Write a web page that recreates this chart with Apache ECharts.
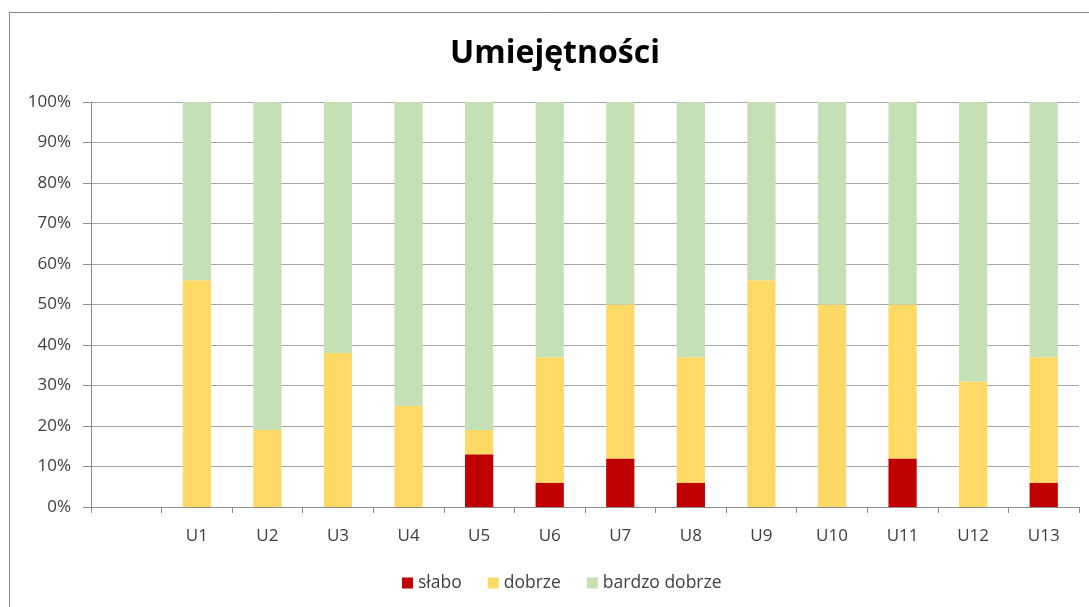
<!DOCTYPE html>
<html>
<head>
<meta charset="utf-8">
<script src="https://cdn.jsdelivr.net/npm/echarts@6/dist/echarts.min.js"></script>
<style>html,body{margin:0;padding:0;background:#fff;}#c{width:1089px;height:607px;}</style>
</head>
<body>
<div id="c"></div>
<script>
var categories = ['', 'U1', 'U2', 'U3', 'U4', 'U5', 'U6', 'U7', 'U8', 'U9', 'U10', 'U11', 'U12', 'U13'];
var slabo =        [null, 0, 0, 0, 0, 13, 6, 12, 6, 0, 0, 12, 0, 6];
var dobrze =       [null, 56, 19, 38, 25, 6, 31, 38, 31, 56, 50, 38, 31, 31];
var bardzoDobrze = [null, 44, 81, 62, 75, 81, 63, 50, 63, 44, 50, 50, 69, 63];
var yTicks = ['0%', '10%', '20%', '30%', '40%', '50%', '60%', '70%', '80%', '90%', '100%'];

var chart = echarts.init(document.getElementById('c'), null, {renderer: 'canvas'});
var font = 'Open Sans';
var txt = '#404040';
function bar(name, data, color) {
  return {
    name: name, type: 'bar', stack: 'all', data: data, barWidth: '40%',
    itemStyle: {color: color}, emphasis: {disabled: true}
  };
}
chart.setOption({
  animation: false,
  title: {
    text: 'Umiejętności', left: 550, top: 33, textAlign: 'center',
    textStyle: {fontFamily: font, fontWeight: 'bold', fontSize: 32, color: '#000'}
  },
  graphic: [{
    type: 'rect', shape: {x: 9.5, y: 12.5, width: 1200, height: 700},
    style: {fill: 'none', stroke: '#878787', lineWidth: 1}, silent: true
  }],
  legend: {
    bottom: 10, left: 397, itemWidth: 11, itemHeight: 11, itemGap: 26, icon: 'rect',
    textStyle: {fontFamily: font, fontSize: 17.5, color: txt},
    data: ['słabo', 'dobrze', 'bardzo dobrze']
  },
  grid: {left: 91, right: 10, top: 102, bottom: 100, containLabel: false},
  xAxis: {
    type: 'category', data: categories, boundaryGap: true,
    axisLine: {lineStyle: {color: '#8c8c8c', width: 1}},
    axisTick: {show: true, length: 6, lineStyle: {color: '#8c8c8c'}, alignWithLabel: false},
    axisLabel: {fontFamily: font, fontSize: 17, color: txt, margin: 21, interval: 0}
  },
  yAxis: {
    type: 'value', min: 0, max: 100, interval: 10,
    axisLine: {show: true, lineStyle: {color: '#8c8c8c'}},
    axisTick: {show: true, length: 8, lineStyle: {color: '#8c8c8c'}},
    splitLine: {lineStyle: {color: '#a6a6a6', width: 1}},
    axisLabel: {
      fontFamily: font, fontSize: 17, color: txt, margin: 20,
      formatter: function (v) { return yTicks[Math.round(v / 10)]; }
    }
  },
  series: [
    bar('słabo', slabo, '#C00000'),
    bar('dobrze', dobrze, '#FFD966'),
    bar('bardzo dobrze', bardzoDobrze, '#C5E0B4')
  ]
});
</script>
</body>
</html>
